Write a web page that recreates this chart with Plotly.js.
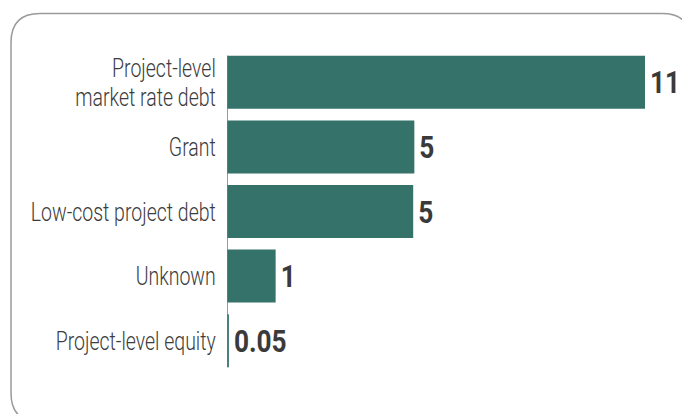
<!DOCTYPE html>
<html>
<head>
<meta charset="utf-8">
<script src="https://cdn.plot.ly/plotly-3.0.1.min.js"></script>
<style>
  html, body { margin: 0; padding: 0; background: #ffffff; }
  #chart { width: 682px; height: 414px; }
</style>
</head>
<body>
<div id="chart"></div>
<script>
// ---- data ----
const categories = [
  "Project-level<br>market rate debt",
  "Grant",
  "Low-cost project debt",
  "Unknown",
  "Project-level equity"
];
const values = [11, 4.93, 4.9, 1.28, 0.05];
const valueLabels = ["11", "5", "5", "1", "0.05"];

// ---- layout geometry (pixels) ----
const W = 682, H = 414;
const M = { l: 227, r: 37, t: 50, b: 41 };
const pw = W - M.l - M.r, ph = H - M.t - M.b;
const px = x => (x - M.l) / pw;          // pixel -> paper x
const py = y => (H - M.b - y) / ph;      // pixel -> paper y

// rounded border frame
const bx0 = 11, bx1 = 691, by0 = 13.5, by1 = 422, rr = 29;
const framePath =
  `M ${px(bx0 + rr)},${py(by0)} L ${px(bx1 - rr)},${py(by0)} ` +
  `Q ${px(bx1)},${py(by0)} ${px(bx1)},${py(by0 + rr)} ` +
  `L ${px(bx1)},${py(by1 - rr)} Q ${px(bx1)},${py(by1)} ${px(bx1 - rr)},${py(by1)} ` +
  `L ${px(bx0 + rr)},${py(by1)} Q ${px(bx0)},${py(by1)} ${px(bx0)},${py(by1 - rr)} ` +
  `L ${px(bx0)},${py(by0 + rr)} Q ${px(bx0)},${py(by0)} ${px(bx0 + rr)},${py(by0)} Z`;

const FONT = "Roboto, 'Liberation Sans', sans-serif";

const trace = {
  type: "bar",
  orientation: "h",
  y: categories,
  x: values,
  text: valueLabels,
  textposition: "outside",
  cliponaxis: false,
  textfont: { family: FONT, size: 32, color: "#3a3a3a", weight: "bold" },
  marker: { color: "#35726a" },
  hoverinfo: "skip"
};

const layout = {
  width: W, height: H,
  margin: M,
  paper_bgcolor: "#ffffff",
  plot_bgcolor: "#ffffff",
  showlegend: false,
  bargap: 0.18,
  xaxis: {
    range: [0, 11],
    visible: false,
    fixedrange: true
  },
  yaxis: {
    autorange: "reversed",
    showgrid: false,
    zeroline: false,
    showline: false,
    ticks: "outside",
    ticklen: 5,
    tickcolor: "rgba(0,0,0,0)",
    tickfont: { family: FONT, size: 26, color: "#3c3c3c", weight: 300 },
    fixedrange: true
  },
  shapes: [
    {
      type: "path", xref: "paper", yref: "paper",
      path: framePath,
      line: { color: "#9a9a9a", width: 1.5 },
      layer: "below"
    },
    {
      type: "line", xref: "x", yref: "y",
      x0: 0, x1: 0, y0: -0.41, y1: 4.41,
      line: { color: "#7a7a7a", width: 1.5 },
      layer: "above"
    }
  ]
};

// condensed look: squeeze text horizontally around its anchor
function condense(t, s, originX, dx, dy) {
  const tr = t.getAttribute("transform") || "";
  t.setAttribute("transform",
    `${tr} translate(${originX + dx},${dy}) scale(${s},1) translate(${-originX},0)`);
}

Plotly.newPlot("chart", [trace], layout, { displayModeBar: false, staticPlot: true })
  .then(gd => {
    gd.querySelectorAll(".ytick text").forEach(t => {
      let shiftY = 0;
      const lines = t.querySelectorAll("tspan.line");
      if (lines.length > 1) {
        const b0 = t.getBBox();
        for (let i = 1; i < lines.length; i++) lines[i].setAttribute("dy", "1.1em");
        const b1 = t.getBBox();
        shiftY = (b0.y + b0.height / 2) - (b1.y + b1.height / 2);
      }
      const x = parseFloat(t.getAttribute("x")) || 0;
      condense(t, 0.75, x, 0, shiftY);
    });
    gd.querySelectorAll(".bartext text, text.bartext").forEach(t => {
      const b = t.getBBox();
      condense(t, 0.82, b.x, 2, 0);
    });
  });
</script>
</body>
</html>
